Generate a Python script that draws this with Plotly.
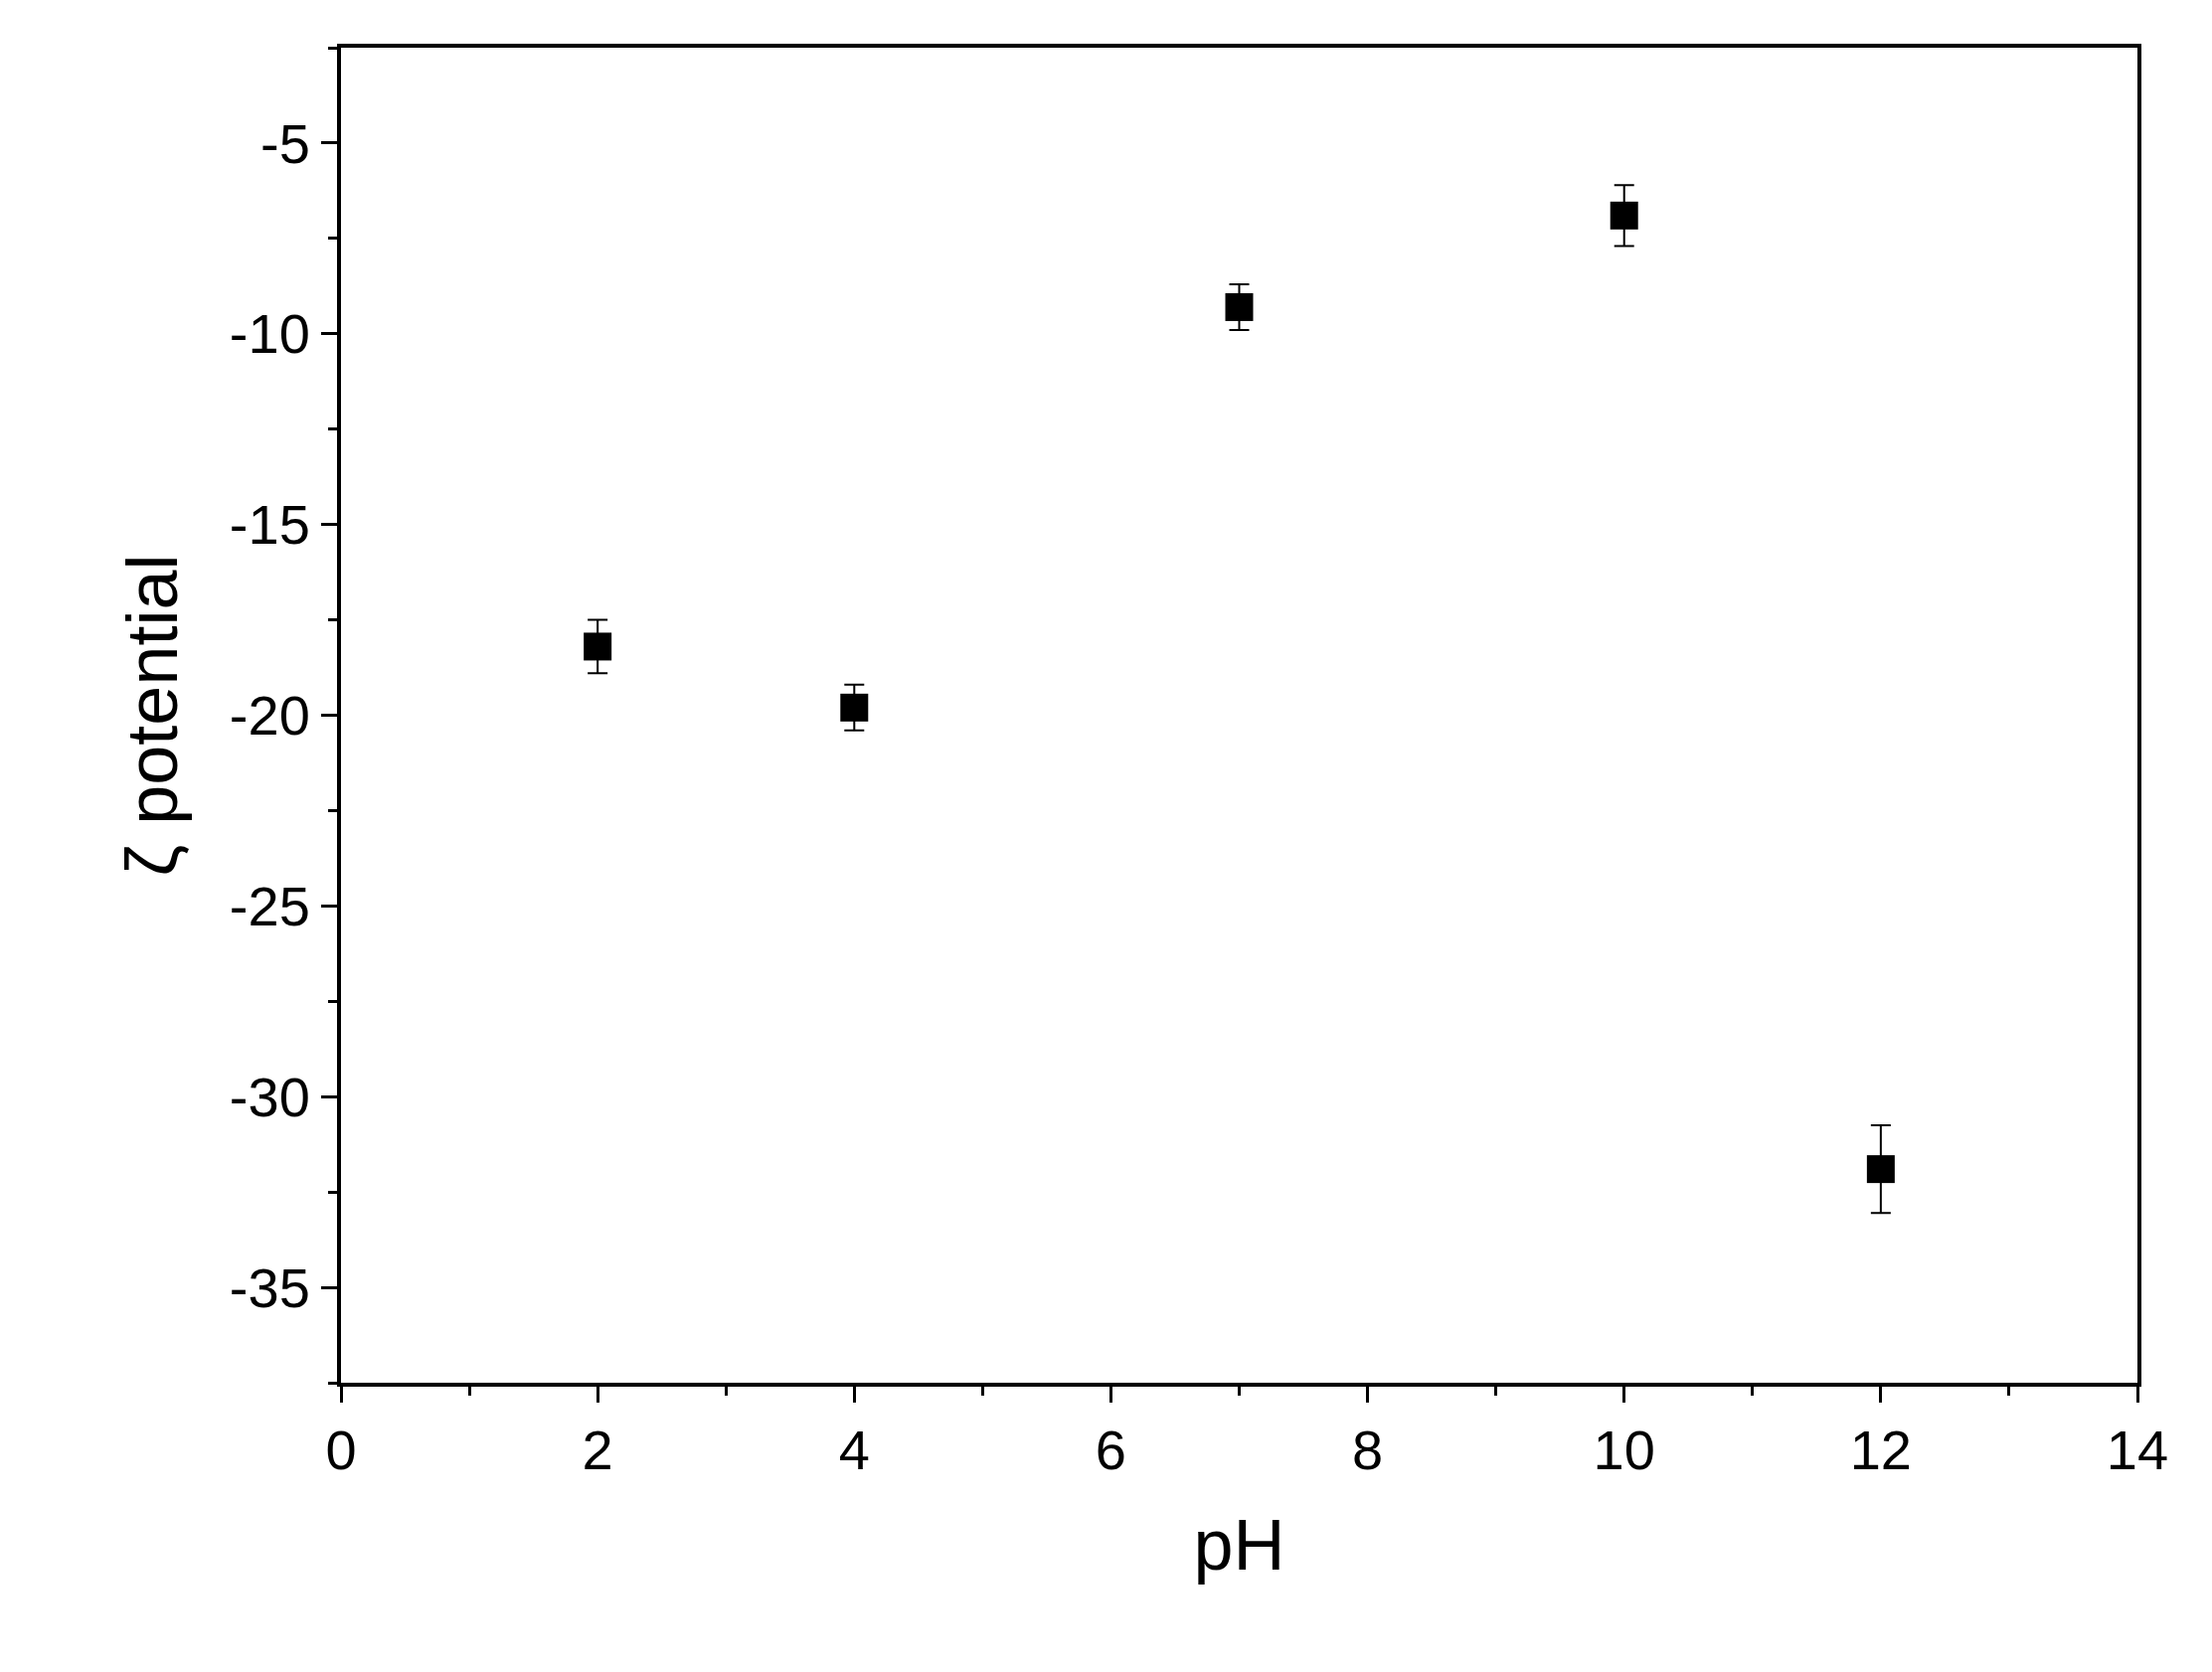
import plotly.graph_objects as go

# -----------------------
# Data
# -----------------------
ph = [2, 4, 7, 10, 12]
zeta = [-18.2, -19.8, -9.3, -6.9, -31.9]
zeta_err = [0.7, 0.6, 0.6, 0.8, 1.15]

fig = go.Figure()
fig.add_trace(go.Scatter(
    x=ph, y=zeta, mode="markers",
    marker=dict(symbol="square", size=28, color="black"),
    error_y=dict(type="data", array=zeta_err, color="black", thickness=2, width=10),
    showlegend=False,
))

axis_font = dict(family="Liberation Sans, Arial", size=56, color="black")
fig.update_layout(
    width=2225, height=1682,
    paper_bgcolor="white", plot_bgcolor="white",
    margin=dict(l=335, r=83, t=40, b=299),
    font=axis_font,
)
fig.update_xaxes(
    range=[0, 14], tickvals=list(range(0, 15, 2)),
    ticks="outside", ticklen=16, tickwidth=3, tickcolor="black",
    minor=dict(tickvals=list(range(1, 15, 2)), ticks="outside", ticklen=9, tickwidth=3, tickcolor="black"),
    showline=True, linewidth=4, linecolor="black", mirror=True,
    showgrid=False, zeroline=False,
    title=dict(text="pH", font=dict(size=72), standoff=40),
)
fig.update_yaxes(
    range=[-37.5, -2.5], tickvals=[-35, -30, -25, -20, -15, -10, -5],
    ticktext=["-35", "-30", "-25", "-20", "-15", "-10", "-5"],
    ticks="outside", ticklen=16, tickwidth=3, tickcolor="black",
    minor=dict(tickvals=[-37.5, -32.5, -27.5, -22.5, -17.5, -12.5, -7.5, -2.5], ticks="outside", ticklen=9, tickwidth=3, tickcolor="black"),
    showline=True, linewidth=4, linecolor="black", mirror=True,
    showgrid=False, zeroline=False,
    title=dict(text="ζ potential", font=dict(size=72), standoff=30),
)

fig.write_html("out.html")
